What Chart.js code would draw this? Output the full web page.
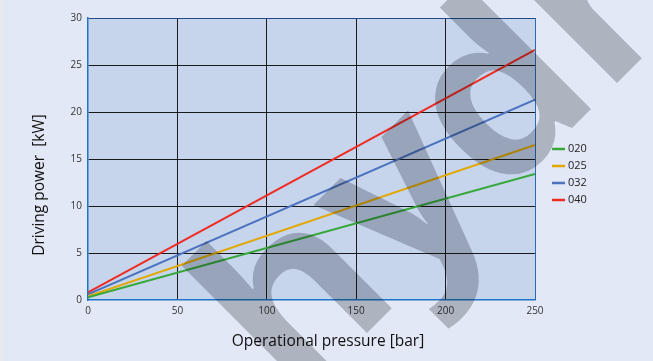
<!DOCTYPE html>
<html><head><meta charset="utf-8">
<script src="https://cdn.jsdelivr.net/npm/chart.js@4.4.0/dist/chart.umd.min.js"></script>
<style>
html,body{margin:0;padding:0;background:#e2e8f5;overflow:hidden}
#wrap{position:relative;width:653px;height:361px}
canvas{display:block}
</style></head>
<body><div id="wrap"><canvas id="c" width="653" height="361"></canvas></div>
<script>
// ---- data ----
const pressure = [0, 250];              // bar
const power020 = [0.3, 13.4];           // kW
const power025 = [0.4, 16.5];
const power032 = [0.6, 21.3];
const power040 = [0.8, 26.6];
const seriesLabels = ['020', '025', '032', '040'];
const seriesColors = ['#35a838', '#e2a800', '#4a73bf', '#ef2b22'];
const xTickValues = [0, 50, 100, 150, 200, 250];
const yTickValues = [0, 5, 10, 15, 20, 25, 30];
const xTitle = 'Operational pressure [bar]';
const yTitle = 'Driving power  [kW]';
const watermark = 'hydr';

const seriesValues = [power020, power025, power032, power040];
const FONT = '"Open Sans", "DejaVu Sans", sans-serif';

const datasets = seriesLabels.map((lab, i) => ({
  label: lab,
  data: pressure.map((p, j) => ({x: p, y: seriesValues[i][j]})),
  borderColor: seriesColors[i],
  backgroundColor: seriesColors[i],
  borderWidth: 2,
  pointRadius: 0,
  tension: 0,
  fill: false
}));

const bgPlugin = {
  id: 'bg',
  beforeDraw(chart) {
    const {ctx, chartArea: a} = chart;
    ctx.save();
    ctx.fillStyle = '#e2e8f5';
    ctx.fillRect(0, 0, chart.width, chart.height);
    ctx.fillStyle = '#e8e9ed';
    ctx.fillRect(0, 0, 3, chart.height);
    ctx.fillStyle = '#c6d4ec';
    ctx.fillRect(a.left, a.top, a.right - a.left, a.bottom - a.top);
    ctx.restore();
  },
  afterDraw(chart) {
    const {ctx} = chart;
    ctx.save();
    // legend
    ctx.font = '11px ' + FONT;
    ctx.textBaseline = 'middle';
    ctx.textAlign = 'left';
    chart.data.datasets.forEach((ds, i) => {
      const y = 149 + 17 * i;
      ctx.strokeStyle = ds.borderColor;
      ctx.lineWidth = 2.5;
      ctx.beginPath(); ctx.moveTo(552, y); ctx.lineTo(565, y); ctx.stroke();
      ctx.fillStyle = '#222';
      ctx.fillText(ds.label, 568, y);
    });
    // axis titles
    ctx.fillStyle = '#111';
    ctx.font = '15.5px ' + FONT;
    ctx.textAlign = 'center';
    ctx.fillText(xTitle, 328, 342);
    ctx.save();
    ctx.translate(40, 185);
    ctx.rotate(-Math.PI / 2);
    ctx.fillText(yTitle, 0, 0);
    ctx.restore();
    // watermark
    ctx.globalCompositeOperation = 'multiply';
    ctx.fillStyle = '#c4c5c8';
    ctx.font = 'bold 235px ' + FONT;
    ctx.textBaseline = 'alphabetic';
    ctx.textAlign = 'left';
    ctx.translate(295, 405);
    ctx.rotate(-Math.PI / 4);
    ctx.fillText(watermark, 0, 0);
    ctx.restore();
  }
};

new Chart(document.getElementById('c'), {
  type: 'line',
  data: {datasets},
  options: {
    responsive: false,
    animation: false,
    devicePixelRatio: 1,
    layout: {padding: {left: 0, top: 18, right: 118, bottom: 0}},
    plugins: {legend: {display: false}, tooltip: {enabled: false}},
    scales: {
      x: {
        type: 'linear', min: 0, max: 250,
        afterBuildTicks(s) { s.ticks = xTickValues.map(v => ({value: v})); },
        afterFit(s) { s.height = 61; },
        ticks: {font: {size: 10, family: FONT}, color: '#333', padding: 5},
        grid: {
          drawTicks: false, lineWidth: 1,
          color: c => c.index === 0 ? 'rgba(0,0,0,0)' : (c.index === xTickValues.length - 1 ? '#2a6cb3' : '#1a1a1a')
        },
        border: {color: '#1f74c6', width: 1.5}
      },
      y: {
        type: 'linear', min: 0, max: 30,
        afterBuildTicks(s) { s.ticks = yTickValues.map(v => ({value: v})); },
        afterFit(s) { s.width = 88; },
        ticks: {font: {size: 10, family: FONT}, color: '#333', padding: 6},
        grid: {
          drawTicks: false, lineWidth: 1,
          color: c => c.index === 0 ? 'rgba(0,0,0,0)' : (c.index === yTickValues.length - 1 ? '#1d4f86' : '#1a1a1a')
        },
        border: {color: '#1f74c6', width: 1.5}
      }
    }
  },
  plugins: [bgPlugin]
});
</script>
</body></html>
